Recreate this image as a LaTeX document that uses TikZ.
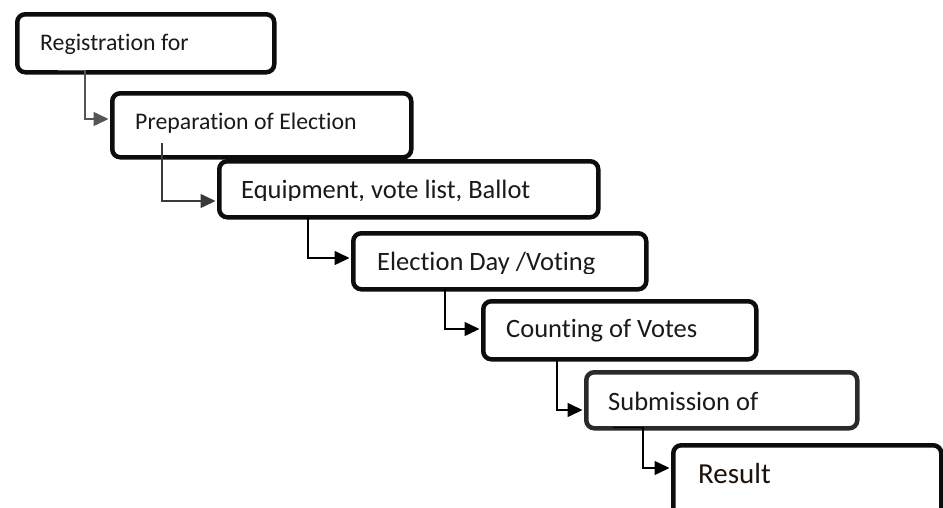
\documentclass[tikz,border=0pt]{standalone}
\usepackage{fontspec}
\setmainfont{Carlito}[Ligatures={NoCommon}]
\usetikzlibrary{arrows.meta}
\definecolor{conngrayA}{HTML}{555555}
\definecolor{conngrayB}{HTML}{3A3A3A}
\definecolor{boxline}{HTML}{0D0D0D}
\definecolor{boxlineB}{HTML}{2A2A2A}
\definecolor{txt}{HTML}{1A1A1A}
\begin{document}
\begin{tikzpicture}[x=1pt,y=-1pt,
  stepbox/.style={rectangle, draw=boxline, line width=4.5pt, rounded corners=8pt, fill=white,
                  anchor=north west, inner sep=0pt},
  lbl/.style={anchor=base west, inner sep=0pt, text=txt},
  fsA/.style={font=\fontsize{23.8}{28}\selectfont},
  fsB/.style={font=\fontsize{26.5}{31}\selectfont},
  fsC/.style={font=\fontsize{29}{34}\selectfont},
  conn/.style={line width=1.5pt, shorten >=1.5pt, -{Triangle[length=15pt,width=14pt]}},
]
\useasboundingbox (0,0) rectangle (943,507);
\clip (0,0) rectangle (943,507);

% boxes
\node[stepbox, minimum width=257pt, minimum height=58pt] (b1) at (15,12) {};
\node[stepbox, minimum width=299pt, minimum height=64pt] (b2) at (110,91) {};
\node[stepbox, minimum width=379pt, minimum height=56pt] (b3) at (217,159) {};
\node[stepbox, minimum width=293pt, minimum height=56pt] (b4) at (351,231) {};
\node[stepbox, minimum width=273pt, minimum height=58pt] (b5) at (481,299) {};
\node[stepbox, draw=boxlineB, minimum width=271pt, minimum height=56pt] (b6) at (584,370) {};
\node[stepbox, minimum width=268pt, minimum height=80pt] (b7) at (671,443) {};

% labels
\node[lbl, fsA] (t1) at (40,50) {Registration for};
\node[lbl, fsA] (t2) at (135,129) {Preparation of Election};
\begin{scope}
  \clip (217,159) rectangle (596,200.5);
  \node[lbl, fsB] (t3) at (241,198) {Equipment, vote list, Ballot};
\end{scope}
\begin{scope}
  \clip (351,231) rectangle (644,273.5);
  \node[lbl, fsB] (t4) at (377,270.5) {Election Day /Voting};
\end{scope}
\node[lbl, fsB] (t5) at (506,337) {Counting of Votes};
\node[lbl, fsB] (t6) at (608,410) {Submission of};
\node[lbl, fsC, text=black!85!brown] (t7) at (698,483) {Result};

% connectors
\coordinate (c1s) at (58,70.5);
\coordinate (c1b) at (85,119);
\draw[conn, draw=conngrayA] (c1s) -- (c1b |- c1s) -- (c1b) -- (c1b -| b2.west);

\coordinate (c2s) at (162,143);
\coordinate (c2b) at (162,201);
\draw[conn, draw=conngrayB] (c2s) -- (c2b) -- (c2b -| b3.west);

\coordinate (c3s) at (308,217);
\coordinate (c3b) at (308,258);
\draw[conn, draw=black] (c3s) -- (c3b) -- (c3b -| b4.west);

\coordinate (c4s) at (445,289);
\coordinate (c4b) at (445,329);
\draw[conn, draw=black] (c4s) -- (c4b) -- (c4b -| b5.west);

\coordinate (c5s) at (557,359);
\coordinate (c5b) at (557,410);
\draw[conn, draw=black] (c5s) -- (c5b) -- (c5b -| b6.west);

\coordinate (c6s) at (613,427.5);
\coordinate (c6b) at (643,468);
\draw[conn, draw=black] (c6s) -- (c6b |- c6s) -- (c6b) -- (c6b -| b7.west);
\end{tikzpicture}
\end{document}
